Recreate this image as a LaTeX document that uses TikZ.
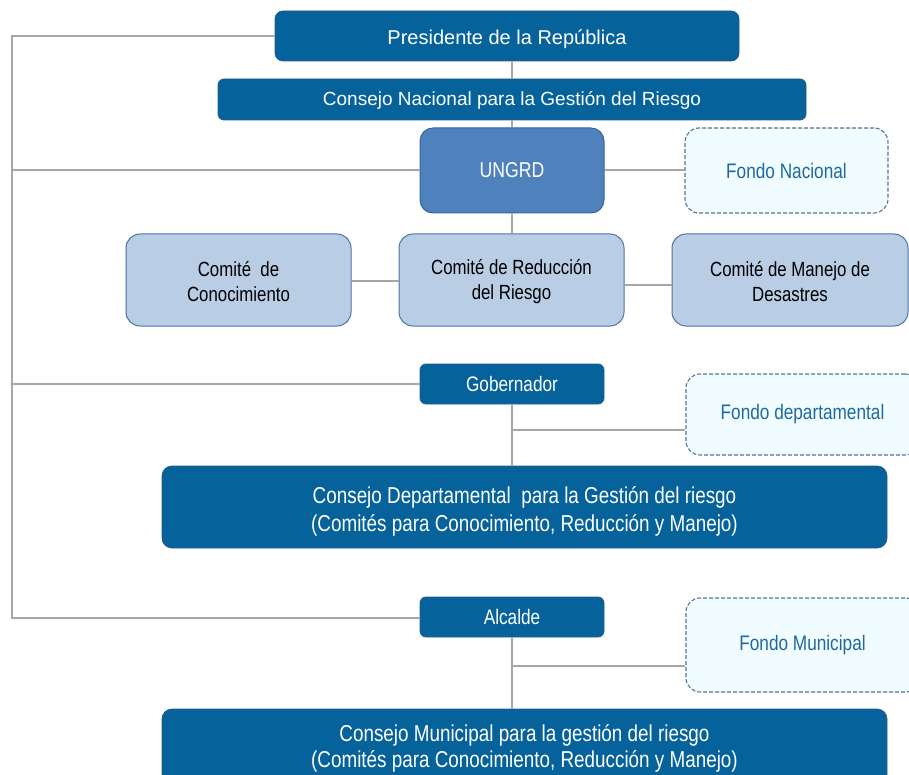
\documentclass[tikz,border=0pt]{standalone}
\usepackage{fontspec}
\setmainfont{Liberation Sans}
\newfontfamily\narrowfont{Liberation Sans}[FakeStretch=0.82]
\newcommand{\lift}[1]{\rule{0pt}{#1}}
\definecolor{dblue}{RGB}{6,98,154}
\definecolor{dbord}{RGB}{40,90,140}
\definecolor{mblue}{RGB}{79,129,189}
\definecolor{mbord}{RGB}{58,100,150}
\definecolor{lblue}{RGB}{185,205,229}
\definecolor{lbord}{RGB}{75,115,165}
\definecolor{fondofill}{RGB}{240,252,255}
\definecolor{fondobord}{RGB}{85,115,155}
\definecolor{fondotext}{RGB}{31,105,160}
\definecolor{linegray}{RGB}{166,166,166}
\tikzset{
  darkbox/.style={draw=dbord, line width=0.8pt, fill=dblue, text=white, rounded corners=7pt, align=center, inner sep=0pt, font=\narrowfont\fontsize{21}{25}\selectfont},
  ungrdbox/.style={draw=mbord, line width=1pt, fill=mblue, text=white, rounded corners=13pt, align=center, inner sep=0pt, font=\narrowfont\fontsize{21.5}{25}\selectfont},
  comitebox/.style={draw=lbord, line width=1pt, fill=lblue, text=black, rounded corners=14pt, align=center, inner sep=0pt, font=\narrowfont\fontsize{20.5}{25}\selectfont},
  fondobox/.style={draw=fondobord, line width=1.1pt, dash pattern=on 4pt off 2pt, fill=fondofill, text=fondotext, rounded corners=14pt, align=center, inner sep=0pt, font=\narrowfont\fontsize{21}{25}\selectfont},
  conn/.style={draw=linegray, line width=2pt}
}
\begin{document}
\begin{tikzpicture}[x=1pt, y=-1pt]
\useasboundingbox (0,0) rectangle (909,775);
% nodes
\node[darkbox, minimum width=464pt, minimum height=50pt, rounded corners=8pt, font=\fontsize{20}{24}\selectfont] (pres) at (507,36) {\lift{21pt}Presidente de la República};
\node[darkbox, minimum width=588pt, minimum height=41pt, rounded corners=6pt, font=\fontsize{19}{23}\selectfont] (cnac) at (512,99.5) {\lift{16pt}Consejo Nacional para la Gestión del Riesgo};
\node[ungrdbox, minimum width=184pt, minimum height=85pt] (ungrd) at (512,170.5) {UNGRD};
\node[fondobox, minimum width=203pt, minimum height=85pt] (fnac) at (786.5,170.5) {Fondo Nacional};
\node[comitebox, minimum width=225pt, minimum height=92pt] (ccon) at (238.5,280) {\lift{18.5pt}Comité \ de\\Conocimiento};
\node[comitebox, minimum width=225pt, minimum height=92pt] (cred) at (511.5,280) {\lift{18.5pt}Comité de Reducción\\del Riesgo};
\node[comitebox, minimum width=236pt, minimum height=92pt] (cman) at (790,280) {\lift{18.5pt}Comité de Manejo de\\Desastres};
\node[darkbox, minimum width=184pt, minimum height=40pt, rounded corners=6pt] (gob) at (512,384) {Gobernador};
\node[fondobox, minimum width=233pt, minimum height=81pt] (fdep) at (802.5,414.5) {Fondo departamental};
\node[darkbox, minimum width=725pt, minimum height=82pt, rounded corners=10pt, font=\narrowfont\fontsize{23}{28}\selectfont] (cdep) at (524.5,507) {\lift{26pt}Consejo Departamental \ para la Gestión del riesgo\\(Comités para Conocimiento, Reducción y Manejo)};
\node[darkbox, minimum width=184pt, minimum height=40pt, rounded corners=6pt] (alc) at (512,617) {Alcalde};
\node[fondobox, minimum width=233pt, minimum height=94pt] (fmun) at (802.5,645) {Fondo Municipal};
\node[darkbox, minimum width=725pt, minimum height=78pt, rounded corners=10pt, font=\narrowfont\fontsize{23}{26}\selectfont] (cmun) at (524.5,748) {Consejo Municipal para la gestión del riesgo\\(Comités para Conocimiento, Reducción y Manejo)};
% helper coordinates
\coordinate (ltop) at (12,36);
\coordinate (lbot) at (12,618);
\coordinate (gb) at (512,430);
\coordinate (ab) at (512,666);
% connectors
\draw[conn] (pres.west) -- (ltop) -- (lbot) -- (lbot -| alc.west);
\draw[conn] (ungrd.west) -- (ungrd.west -| ltop);
\draw[conn] (gob.west) -- (gob.west -| ltop);
\draw[conn] (cnac.north) -- (cnac.north |- pres.south);
\draw[conn] (ungrd.north) -- (cnac.south);
\draw[conn] (ungrd.south) -- (ungrd.south |- cred.north);
\draw[conn] (ungrd.east) -- (fnac.west);
\draw[conn] ([yshift=-1pt]ccon.east) -- ([yshift=-1pt]ccon.east -| cred.west);
\draw[conn] ([yshift=-5pt]cred.east) -- ([yshift=-5pt]cred.east -| cman.west);
\draw[conn] (gob.south) -- (gob.south |- cdep.north);
\draw[conn] (gb) -- (gb -| fdep.west);
\draw[conn] (alc.south) -- (alc.south |- cmun.north);
\draw[conn] (ab) -- (ab -| fmun.west);
\end{tikzpicture}
\end{document}
